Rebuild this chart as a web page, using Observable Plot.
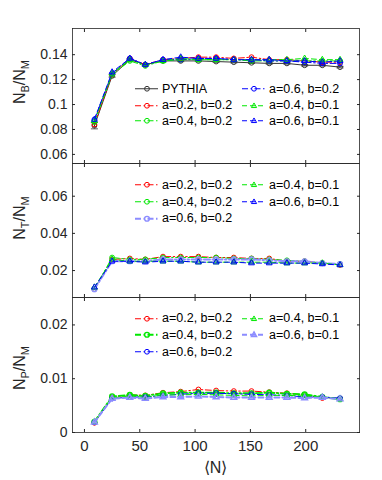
<!DOCTYPE html>
<html><head><meta charset="utf-8">
<script src="https://cdn.jsdelivr.net/npm/d3@7"></script>
<script src="https://cdn.jsdelivr.net/npm/@observablehq/plot@0.6"></script>
<style>
body{margin:0;background:#fff;font-family:"Liberation Sans",Arial,sans-serif;}
#chart{position:relative;width:382px;height:480px;overflow:hidden;background:#fff;}
.panel{position:absolute;left:0;}
.ylab{position:absolute;font-size:16px;color:#262626;white-space:nowrap;line-height:1;transform:translate(-50%,-50%) rotate(-90deg);}
.ylab sub{font-size:11px;vertical-align:-4px;}
.xlab{position:absolute;font-size:16px;color:#262626;transform:translate(-50%,-50%);white-space:nowrap;}
.leg{position:absolute;font-size:12.5px;color:#000;white-space:nowrap;line-height:1;display:flex;align-items:center;transform:translateY(-50%);}
.leg svg{margin-right:4px;overflow:visible;}
</style></head><body><div id="chart"></div>
<script>
// ---------- data ----------
const N = [9, 25, 41, 55, 71, 87, 103, 119, 135, 151, 167, 183, 199, 215, 231];
const seriesNames = ["PYTHIA", "a=0.2, b=0.2", "a=0.4, b=0.2", "a=0.6, b=0.2", "a=0.4, b=0.1", "a=0.6, b=0.1"];

// N_B / N_M
const B_pythia = [0.083, 0.123, 0.136, 0.132, 0.135, 0.135, 0.135, 0.1345, 0.134, 0.1335, 0.133, 0.133, 0.1315, 0.1315, 0.130];
const B_pythia_err = [0.0025, 0.001, 0.0006, 0.0006, 0.0006, 0.0006, 0.0006, 0.0006, 0.0006, 0.0006, 0.0006, 0.0006, 0.0006, 0.0006, 0.0006];
const B_a02b02 = [0.084, 0.124, 0.137, 0.132, 0.136, 0.137, 0.138, 0.138, 0.137, 0.138, 0.136, 0.136, 0.135, 0.134, 0.134];
const B_a04b02 = [0.086, 0.124, 0.135, 0.131, 0.135, 0.136, 0.136, 0.136, 0.136, 0.135, 0.135, 0.135, 0.135, 0.135, 0.135];
const B_a06b02 = [0.088, 0.125, 0.137, 0.132, 0.136, 0.136, 0.137, 0.137, 0.136, 0.136, 0.135, 0.135, 0.134, 0.133, 0.133];
const B_a04b01 = [0.087, 0.125, 0.136, 0.132, 0.135, 0.137, 0.136, 0.136, 0.136, 0.136, 0.136, 0.136, 0.137, 0.136, 0.136];
const B_a06b01 = [0.088, 0.126, 0.137, 0.132, 0.136, 0.138, 0.137, 0.137, 0.136, 0.136, 0.136, 0.135, 0.135, 0.134, 0.135];

// N_T / N_M
const T_a02b02 = [0.010, 0.026, 0.0265, 0.026, 0.0275, 0.0275, 0.0275, 0.027, 0.027, 0.0265, 0.0265, 0.025, 0.025, 0.024, 0.023];
const T_a04b02 = [0.010, 0.027, 0.026, 0.026, 0.027, 0.027, 0.027, 0.027, 0.0265, 0.0265, 0.026, 0.0255, 0.025, 0.024, 0.0235];
const T_a06b02 = [0.010, 0.025, 0.025, 0.025, 0.026, 0.026, 0.026, 0.026, 0.026, 0.026, 0.0255, 0.025, 0.025, 0.024, 0.0235];
const T_a04b01 = [0.011, 0.026, 0.025, 0.025, 0.025, 0.025, 0.0245, 0.0245, 0.0245, 0.0245, 0.0245, 0.024, 0.024, 0.024, 0.023];
const T_a06b01 = [0.011, 0.025, 0.025, 0.0245, 0.025, 0.025, 0.0245, 0.0245, 0.0245, 0.024, 0.024, 0.024, 0.024, 0.0235, 0.023];

// N_P / N_M
const P_a02b02 = [0.0018, 0.0066, 0.0070, 0.0069, 0.0074, 0.0076, 0.0080, 0.0078, 0.0077, 0.0077, 0.0075, 0.0073, 0.0070, 0.0064, 0.0063];
const P_a04b02 = [0.0020, 0.0067, 0.0070, 0.0068, 0.0073, 0.0074, 0.0074, 0.0074, 0.0073, 0.0073, 0.0074, 0.0072, 0.0071, 0.0066, 0.0062];
const P_a06b02 = [0.0019, 0.0063, 0.0066, 0.0066, 0.0069, 0.0071, 0.0073, 0.0073, 0.0072, 0.0071, 0.0070, 0.0069, 0.0066, 0.0066, 0.0064];
const P_a04b01 = [0.0020, 0.0064, 0.0068, 0.0065, 0.0070, 0.0070, 0.0071, 0.0070, 0.0069, 0.0068, 0.0069, 0.0069, 0.0068, 0.0066, 0.0063];
const P_a06b01 = [0.0019, 0.0063, 0.0065, 0.0063, 0.0066, 0.0066, 0.0067, 0.0066, 0.0065, 0.0065, 0.0065, 0.0065, 0.0064, 0.0065, 0.0062];

const xTicks = [0, 50, 100, 150, 200];
const yTicksB = [0.06, 0.08, 0.1, 0.12, 0.14];
const yTicksT = [0.02, 0.04, 0.06];
const yTicksP = [0, 0.01, 0.02];

// ---------- styles ----------
const RED = "#ff0000", GREEN = "#00e800", BLUE = "#0000ff", LBLUE = "#8c8cff", BLACK = "#333333";
const DASHDOT = "6,2.5,1.5,2.5", DASH = "5,3";
const baseStyle = {
  "PYTHIA":       {stroke: BLACK, dash: null, symbol: "circle", w: 1},
  "a=0.2, b=0.2": {stroke: RED, dash: DASHDOT, symbol: "circle", w: 1},
  "a=0.4, b=0.2": {stroke: GREEN, dash: DASHDOT, symbol: "circle", w: 1},
  "a=0.6, b=0.2": {stroke: BLUE, dash: DASHDOT, symbol: "circle", w: 1},
  "a=0.4, b=0.1": {stroke: GREEN, dash: DASH, symbol: "triangle2", w: 1},
  "a=0.6, b=0.1": {stroke: BLUE, dash: DASH, symbol: "triangle2", w: 1}
};
const hcap = {draw(ctx, size) { const r = Math.sqrt(size); ctx.moveTo(-r, 0); ctx.lineTo(r, 0); }};

const panels = [
  {
    top: 0, height: 163, mt: 28, mb: 0, domain: [0.0527, 0.161], ticks: yTicksB,
    fmt: d => d === 0.1 ? "0.1" : d3.format(".2f")(d),
    series: [["PYTHIA", B_pythia], ["a=0.2, b=0.2", B_a02b02], ["a=0.4, b=0.2", B_a04b02], ["a=0.6, b=0.2", B_a06b02], ["a=0.4, b=0.1", B_a04b01], ["a=0.6, b=0.1", B_a06b01]],
    err: B_pythia_err, override: {},
    legendRows: [88.7, 105.3, 121],
    legendCols: [["PYTHIA", "a=0.2, b=0.2", "a=0.4, b=0.2"], ["a=0.6, b=0.2", "a=0.4, b=0.1", "a=0.6, b=0.1"]],
    ylab: ["B", "M"], ylabPos: [21, 82]
  },
  {
    top: 163, height: 134, mt: 0, mb: 0, domain: [0.0055, 0.0776], ticks: yTicksT,
    fmt: d3.format(".2f"),
    series: [["a=0.2, b=0.2", T_a02b02], ["a=0.4, b=0.2", T_a04b02], ["a=0.6, b=0.2", T_a06b02], ["a=0.4, b=0.1", T_a04b01], ["a=0.6, b=0.1", T_a06b01]],
    override: {"a=0.6, b=0.2": {stroke: LBLUE, w: 2}},
    legendRows: [185, 201.7, 218.3],
    legendCols: [["a=0.2, b=0.2", "a=0.4, b=0.2", "a=0.6, b=0.2"], ["a=0.4, b=0.1", "a=0.6, b=0.1"]],
    ylab: ["T", "M"], ylabPos: [21, 218]
  },
  {
    top: 297, height: 183, mt: 0, mb: 48, domain: [0, 0.0251], ticks: yTicksP,
    fmt: d => d === 0 ? "0" : d3.format(".2f")(d),
    series: [["a=0.2, b=0.2", P_a02b02], ["a=0.4, b=0.2", P_a04b02], ["a=0.6, b=0.2", P_a06b02], ["a=0.4, b=0.1", P_a04b01], ["a=0.6, b=0.1", P_a06b01]],
    override: {"a=0.4, b=0.2": {w: 1.8}, "a=0.6, b=0.1": {stroke: LBLUE, w: 2}},
    legendRows: [318.3, 335, 351.7],
    legendCols: [["a=0.2, b=0.2", "a=0.4, b=0.2", "a=0.6, b=0.2"], ["a=0.4, b=0.1", "a=0.6, b=0.1"]],
    ylab: ["P", "M"], ylabPos: [21, 368], xlabels: true
  }
];

const chart = document.getElementById("chart");
const AX = "#262626";

for (const p of panels) {
  const st = name => Object.assign({}, baseStyle[name], p.override[name] || {});
  const marks = [];
  marks.push(Plot.frame({stroke: AX, strokeWidth: 0.8}));
  if (p.err) {
    const pts = N.map((x, i) => ({x, lo: p.series[0][1][i] - p.err[i], hi: p.series[0][1][i] + p.err[i]}));
    marks.push(Plot.ruleX(pts, {x: "x", y1: "lo", y2: "hi", stroke: BLACK, strokeWidth: 0.8}));
    marks.push(Plot.dot(pts, {x: "x", y: "lo", symbol: hcap, r: 2, stroke: BLACK, strokeWidth: 0.8}));
    marks.push(Plot.dot(pts, {x: "x", y: "hi", symbol: hcap, r: 2, stroke: BLACK, strokeWidth: 0.8}));
  }
  for (const [name, vals] of p.series) {
    const s = st(name);
    const data = N.map((x, i) => ({x, y: vals[i]}));
    marks.push(Plot.line(data, {x: "x", y: "y", stroke: s.stroke, strokeWidth: s.w, strokeDasharray: s.dash || undefined}));
    marks.push(Plot.dot(data, {x: "x", y: "y", symbol: s.symbol, r: s.symbol === "circle" ? 2.4 : 2.8, stroke: s.stroke, strokeWidth: Math.min(s.w, 1.4), fill: "none"}));
  }
  marks.push(Plot.axisY(p.ticks, {anchor: "left", tickSize: -3, tickPadding: 8, tickFormat: p.fmt, fontSize: 14, color: AX, stroke: AX}));
  marks.push(Plot.axisY(p.ticks, {anchor: "right", tickSize: -3, tickFormat: () => "", stroke: AX}));
  marks.push(Plot.axisX(xTicks, {anchor: "top", tickSize: -3, tickFormat: () => "", stroke: AX}));
  marks.push(Plot.axisX(xTicks, {anchor: "bottom", tickSize: -3, tickPadding: p.xlabels ? 11 : 0, tickFormat: p.xlabels ? d => String(d) : () => "", fontSize: 15, color: AX, stroke: AX}));

  const svg = Plot.plot({
    width: 382, height: p.height,
    marginLeft: 72, marginRight: 23, marginTop: p.mt, marginBottom: p.mb,
    x: {domain: [-10.8, 248.6], label: null},
    y: {domain: p.domain, label: null},
    style: {overflow: "visible", background: "transparent", fontFamily: "'Liberation Sans', Arial, sans-serif", color: AX},
    marks
  });
  const wrap = document.createElement("div");
  wrap.className = "panel";
  wrap.style.top = p.top + "px";
  wrap.appendChild(svg);
  chart.appendChild(wrap);

  // legend
  const colX = [135, 242];
  p.legendCols.forEach((col, ci) => {
    col.forEach((name, ri) => {
      const s = st(name);
      const d = document.createElement("div");
      d.className = "leg";
      d.style.left = colX[ci] + "px";
      d.style.top = p.legendRows[ri] + "px";
      const marker = s.symbol === "circle"
        ? `<circle cx="12" cy="5" r="2.4" fill="none" stroke="${s.stroke}" stroke-width="${Math.min(s.w,1.4)}"/>`
        : `<path d="M12,2.2 L14.6,6.8 L9.4,6.8 Z" fill="none" stroke="${s.stroke}" stroke-width="${Math.min(s.w,1.4)}"/>`;
      d.innerHTML = `<svg width="23" height="10"><line x1="0" x2="23" y1="5" y2="5" stroke="${s.stroke}" stroke-width="${s.w}" ${s.dash ? `stroke-dasharray="${s.dash}"` : ""}/>${marker}</svg><span>${name}</span>`;
      chart.appendChild(d);
    });
  });

  // y label
  const yl = document.createElement("div");
  yl.className = "ylab";
  yl.style.left = p.ylabPos[0] + "px";
  yl.style.top = p.ylabPos[1] + "px";
  yl.innerHTML = `N<sub>${p.ylab[0]}</sub>/N<sub>${p.ylab[1]}</sub>`;
  chart.appendChild(yl);
}

const xl = document.createElement("div");
xl.className = "xlab";
xl.style.left = "215.5px";
xl.style.top = "467px";
xl.textContent = "\u27E8N\u27E9";
chart.appendChild(xl);
</script>
</body></html>
